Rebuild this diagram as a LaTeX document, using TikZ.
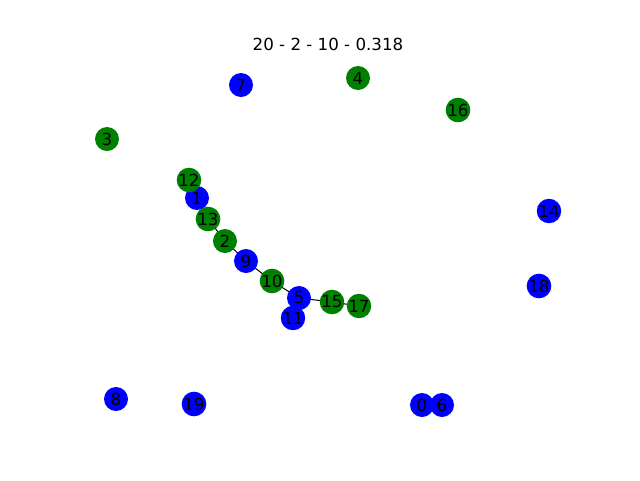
\documentclass[tikz,border=0pt]{standalone}
\usepackage{fontspec}
\setmainfont{DejaVu Sans}
\usetikzlibrary{backgrounds}
\definecolor{nblue}{RGB}{0,0,255}
\definecolor{ngreen}{RGB}{0,128,0}
\tikzset{
  vb/.style={circle, fill=nblue, minimum size=18pt, inner sep=0pt, font=\fontsize{12.5}{14}\selectfont},
  vg/.style={vb, fill=ngreen},
  edge/.style={black, line width=0.75pt}
}
\begin{document}
\begin{tikzpicture}[x=0.75pt, y=-0.75pt]
  \useasboundingbox (0,0) rectangle (640,480);

  \node [font=\fontsize{12.5}{14}\selectfont] (title) at (328,44) {20 - 2 - 10 - 0.318};

  \node [vb] (n0) at (422,405) {0};
  \node [vb] (n1) at (197,198) {1};
  \node [vg] (n2) at (225,241) {2};
  \node [vg] (n3) at (107,139) {3};
  \node [vg] (n4) at (358,78) {4};
  \node [vb] (n5) at (299,298) {5};
  \node [vb] (n6) at (442,405) {6};
  \node [vb] (n7) at (241,85) {7};
  \node [vb] (n8) at (116,399) {8};
  \node [vb] (n9) at (246,261) {9};
  \node [vg] (n10) at (272,281) {10};
  \node [vb] (n11) at (293,318) {11};
  \node [vg] (n12) at (189,180) {12};
  \node [vg] (n13) at (208,219) {13};
  \node [vb] (n14) at (549,211) {14};
  \node [vg] (n15) at (332,302) {15};
  \node [vg] (n16) at (458,110) {16};
  \node [vg] (n17) at (359,306) {17};
  \node [vb] (n18) at (539,286) {18};
  \node [vb] (n19) at (194,404) {19};

  \begin{pgfonlayer}{background}
    \draw [edge] (n12.center)--(n1.center)--(n13.center)--(n2.center)--(n9.center)--(n10.center)--(n5.center)--(n15.center)--(n17.center);
    \draw [edge] (n5.center)--(n11.center);
  \end{pgfonlayer}
\end{tikzpicture}
\end{document}
